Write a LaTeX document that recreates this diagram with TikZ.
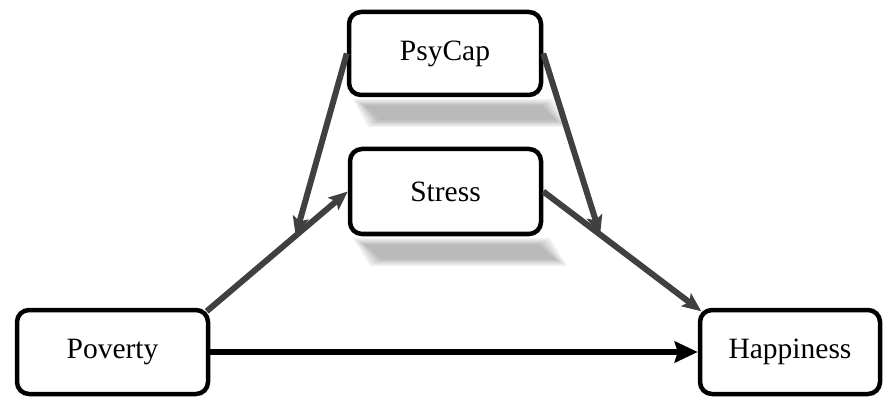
\documentclass[tikz,border=0pt]{standalone}
\usepackage{fontspec}
\setmainfont{Liberation Serif}
\usetikzlibrary{arrows.meta,calc}
\definecolor{linegray}{HTML}{404040}
\begin{document}
\begin{tikzpicture}[x=1pt,y=-1pt,
  box/.style={draw=black, line width=4.5pt, rounded corners=12pt, fill=white,
    inner sep=0pt, font=\fontsize{29.5}{35}\selectfont},
  link/.style={draw=linegray, line width=6pt,
    -{Stealth[length=19pt,width=16pt,inset=4pt]}},
  mainlink/.style={draw=black, line width=5.5pt,
    -{Stealth[length=23pt,width=21pt,inset=3pt]}},
  shadowlayer/.style={fill=black, opacity=0.05}
]
\useasboundingbox (0,0) rectangle (886,398);

% soft shadows under the two middle boxes (stacked translucent layers)
\foreach \top/\bot/\lft/\rgt/\sh in {99/127/353/553/15, 238/266/353/550/17}{
  \foreach \k in {0,...,5}{
    \fill[shadowlayer]
      (\lft+\k*2.2, \top+\k*1.3) -- (\rgt-\k*2.2, \top+\k*1.3) --
      (\rgt+\sh-\k*2.2, \bot-\k*1.3) -- (\lft+\sh+\k*2.2, \bot-\k*1.3) -- cycle;
  }
}

% boxes
\node[box, minimum width=192pt, minimum height=83pt] (psycap) at (445,53.5) {PsyCap};
\node[box, minimum width=191pt, minimum height=85pt] (stress) at (445.5,191.5) {Stress};
\node[box, minimum width=191pt, minimum height=84pt] (poverty) at (112.5,352) {Poverty};
\node[box, minimum width=180pt, minimum height=84pt] (happy) at (790,352) {Happiness};

% points where the moderating arrows meet the mediating paths
\coordinate (povcorner) at ($(poverty.north east)+(-3.5,3.5)$);
\coordinate (hapcorner) at ($(happy.north west)+(3.5,3.5)$);
\coordinate (m1) at ($(povcorner)!0.63!(stress.west)$);
\coordinate (m2) at ($(stress.east)!0.36!(hapcorner)$);

% connectors
\draw[link] (povcorner) -- (stress.west);
\draw[link] (stress.east) -- (hapcorner);
\draw[link] (psycap.west) -- (m1);
\draw[link] (psycap.east) -- (m2);
\draw[mainlink] (poverty.east) -- (happy.west);
\end{tikzpicture}
\end{document}
